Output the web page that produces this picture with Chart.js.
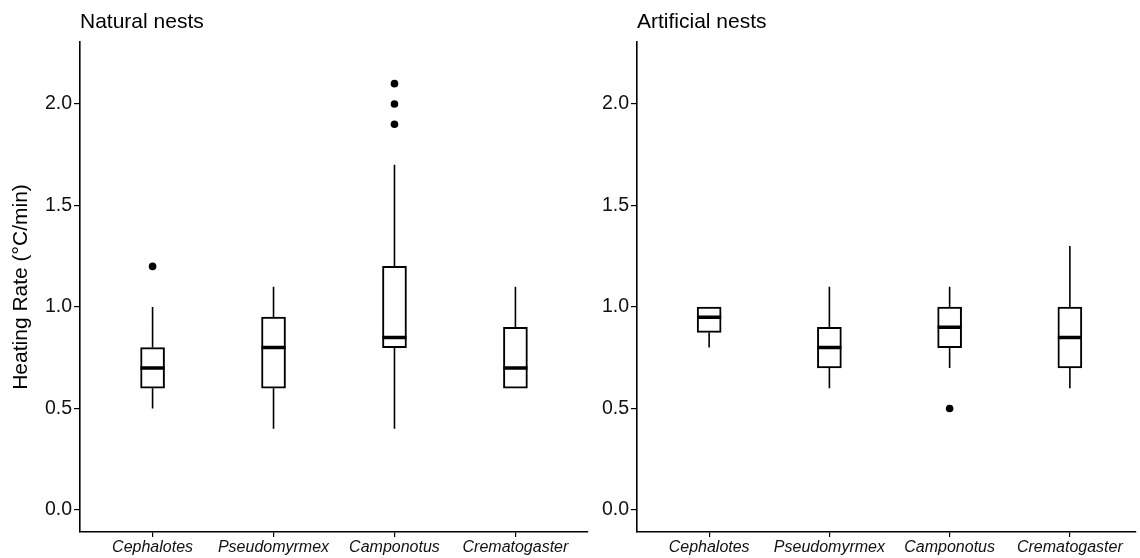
<!DOCTYPE html>
<html>
<head>
<meta charset="utf-8">
<script src="https://cdn.jsdelivr.net/npm/chart.js@4/dist/chart.umd.min.js"></script>
<style>
  body { margin: 0; background: #fff; }
  #wrap { position: relative; width: 1140px; height: 558px; }
  #leftBox { position: absolute; left: 0; top: 0; width: 592px; height: 558px; }
  #rightBox { position: absolute; left: 592px; top: 0; width: 548px; height: 558px; }
</style>
</head>
<body>
<div id="wrap">
  <div id="leftBox"><canvas id="naturalChart" width="592" height="558"></canvas></div>
  <div id="rightBox"><canvas id="artificialChart" width="548" height="558"></canvas></div>
</div>
<script>
const categories = ['Cephalotes', 'Pseudomyrmex', 'Camponotus', 'Crematogaster'];
const yTicks = [0, 0.5, 1.0, 1.5, 2.0];

// Natural nests
const naturalMin = [0.5, 0.4, 0.4, 0.6];
const naturalQ1 = [0.6, 0.6, 0.8, 0.6];
const naturalMedian = [0.7, 0.8, 0.85, 0.7];
const naturalQ3 = [0.8, 0.95, 1.2, 0.9];
const naturalMax = [1.0, 1.1, 1.7, 1.1];
const naturalOutliers = [[1.2], [], [1.9, 2.0, 2.1], []];

// Artificial nests
const artificialMin = [0.8, 0.6, 0.7, 0.6];
const artificialQ1 = [0.875, 0.7, 0.8, 0.7];
const artificialMedian = [0.95, 0.8, 0.9, 0.85];
const artificialQ3 = [1.0, 0.9, 1.0, 1.0];
const artificialMax = [1.0, 1.1, 1.1, 1.3];
const artificialOutliers = [[], [], [0.5], []];

const FONT = "'Liberation Sans', Arial, sans-serif";
const halfBox = 0.1;

function buildDatasets(mins, q1s, meds, q3s, maxs, outs) {
    const boxes = categories.map((c, i) => ({ x: i + 1, y: [q1s[i], q3s[i]] }));
    const whiskers = [];
    const medians = [];
    const outliers = [];
    categories.forEach((c, i) => {
        const x = i + 1;
        whiskers.push({ x: x, y: mins[i] }, { x: x, y: q1s[i] }, { x: x, y: null });
        whiskers.push({ x: x, y: q3s[i] }, { x: x, y: maxs[i] }, { x: x, y: null });
        medians.push({ x: x - halfBox, y: meds[i] }, { x: x + halfBox, y: meds[i] }, { x: x, y: null });
        outs[i].forEach(v => outliers.push({ x: x, y: v }));
    });
    return [
        {
            type: 'line', label: 'median', data: medians,
            borderColor: '#000', borderWidth: 3.5, pointRadius: 0, spanGaps: false
        },
        {
            type: 'bar', label: 'box', data: boxes, grouped: false,
            backgroundColor: '#fff', borderColor: '#000', borderWidth: 2,
            borderSkipped: false, barThickness: 24
        },
        {
            type: 'line', label: 'whisker', data: whiskers,
            borderColor: '#000', borderWidth: 1.6, pointRadius: 0, spanGaps: false
        },
        {
            type: 'scatter', label: 'outlier', data: outliers,
            backgroundColor: '#000', borderWidth: 0, pointRadius: 3.8
        }
    ];
}

function makeChart(id, title, datasets, opts) {
    return new Chart(document.getElementById(id), {
        data: { datasets: datasets },
        options: {
            responsive: false,
            animation: false,
            layout: { padding: { top: 0, right: opts.padRight, bottom: 0, left: 0 } },
            plugins: {
                legend: { display: false },
                tooltip: { enabled: false },
                title: {
                    display: true, text: title, align: 'start', fullSize: false,
                    color: '#000', font: { family: FONT, size: 21, weight: 'normal' },
                    padding: { top: 9.4, bottom: 7.4 }
                }
            },
            scales: {
                x: {
                    type: 'linear', min: 0.4, max: opts.xMax, offset: false,
                    afterBuildTicks: s => { s.ticks = categories.map((c, i) => ({ value: i + 1 })); },
                    afterFit: s => { s.height = 26; s.paddingLeft = 0; s.paddingRight = 0; },
                    grid: { display: true, offset: false, drawOnChartArea: false, tickLength: 5, color: '#000', lineWidth: 1.2 },
                    border: { display: true, color: '#000', width: 1.6 },
                    ticks: {
                        callback: v => categories[v - 1],
                        color: '#111', padding: 1, maxRotation: 0, autoSkip: false,
                        font: { family: FONT, size: 16, style: 'italic' }
                    }
                },
                y: {
                    type: 'linear', min: -0.108, max: 2.305,
                    afterBuildTicks: s => { s.ticks = yTicks.map(v => ({ value: v })); },
                    afterFit: s => { s.width = opts.yWidth; },
                    grid: { display: true, drawOnChartArea: false, tickLength: 6, color: '#000', lineWidth: 1.2 },
                    border: { display: true, color: '#000', width: 1.6 },
                    ticks: {
                        callback: v => v.toFixed(1),
                        color: '#111', padding: 2,
                        font: { family: FONT, size: 19.5 }
                    },
                    title: {
                        display: opts.yTitle, text: 'Heating Rate (°C/min)', color: '#000',
                        font: { family: FONT, size: 21 }, padding: { top: 9, bottom: 0 }
                    }
                }
            }
        }
    });
}

makeChart('naturalChart', 'Natural nests',
    buildDatasets(naturalMin, naturalQ1, naturalMedian, naturalQ3, naturalMax, naturalOutliers),
    { xMax: 4.6, yWidth: 80, padRight: 3, yTitle: true });

makeChart('artificialChart', 'Artificial nests',
    buildDatasets(artificialMin, artificialQ1, artificialMedian, artificialQ3, artificialMax, artificialOutliers),
    { xMax: 4.55, yWidth: 45, padRight: 0, yTitle: false });
</script>
</body>
</html>
